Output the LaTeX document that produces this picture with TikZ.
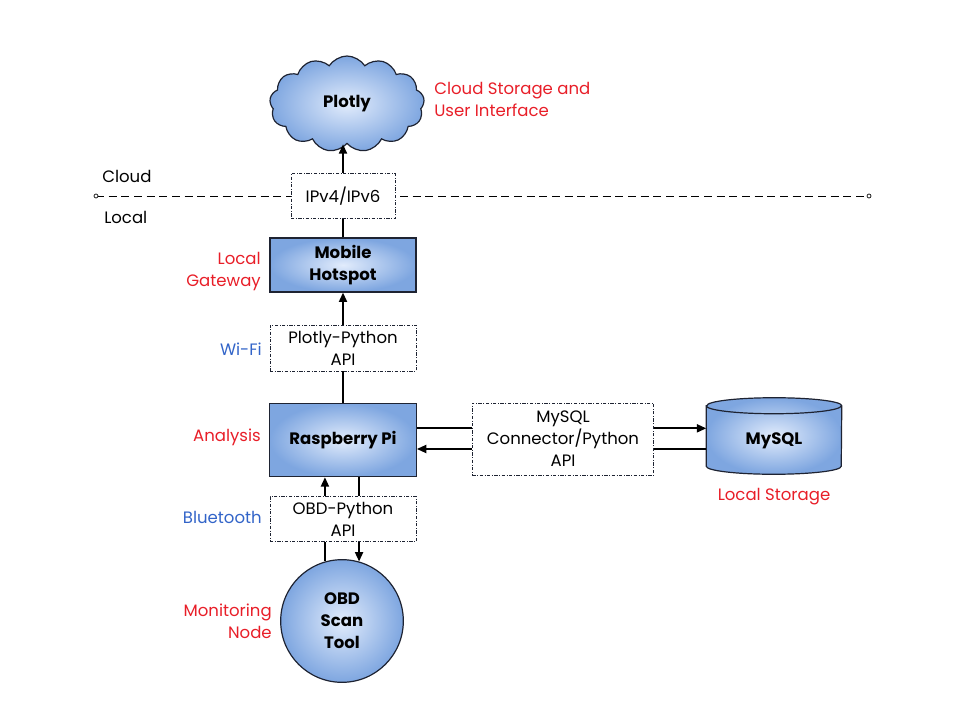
\documentclass[tikz,border=0pt]{standalone}
\usepackage{fontspec}
\setmainfont{Poppins}
\usetikzlibrary{positioning, arrows.meta, shapes.symbols}
\definecolor{hwblue}{RGB}{126,166,224}
\definecolor{hwlight}{RGB}{226,236,252}
\definecolor{hwedge}{RGB}{30,35,50}
\definecolor{tagred}{RGB}{232,30,40}
\definecolor{tagblue}{RGB}{50,100,200}
\newcommand{\diagfont}{\fontsize{12.4}{16.5}\selectfont}
\tikzset{
    hwnode/.style={draw=hwedge, line width=0.9pt, inner color=hwlight, outer color=hwblue, font=\diagfont\bfseries, align=center, inner sep=0pt},
    hwbox/.style={hwnode, rectangle, minimum width=109.5pt},
    apibox/.style={draw=hwedge, line width=0.5pt, dash pattern=on 2.5pt off 1.2pt on 0.6pt off 1.2pt, fill=white, align=center, inner sep=0pt},
    roletag/.style={text=tagred, align=right, anchor=east, inner sep=0pt},
    linktag/.style={text=tagblue, anchor=east, inner sep=0pt},
    zonetag/.style={anchor=west, inner sep=0pt},
    flow/.style={line width=1.4pt, -{Triangle[length=7pt, width=6pt]}},
    wire/.style={line width=1.4pt}
}

\begin{document}
\begin{tikzpicture}[x=0.75pt, y=-0.75pt, font=\diagfont]
    \useasboundingbox (0,0) rectangle (960,720);

    % cloud / local border
    \coordinate (borderl) at (96,196);
    \coordinate (borderr) at (869,196);
    \draw[line width=0.6pt, dash pattern=on 6pt off 3.5pt] (borderl) -- (borderr);
    \draw[line width=0.5pt, fill=white] (borderl) circle[radius=1.5pt] (borderr) circle[radius=1.5pt];
    \node[zonetag] (cloudtag) at (102,176) {Cloud};
    \node[zonetag] (localtag) at (104,217) {Local};

    % hardware
    \node[hwnode, cloud, cloud puffs=13, cloud puff arc=115, aspect=1.7, minimum width=116pt, minimum height=72pt] (plotly) at (347,104) {Plotly};
    \node[hwbox, minimum height=40.5pt] (hotspot) at (343,265) {Mobile\\Hotspot};
    \node[hwbox, minimum width=110pt, minimum height=55pt] (rpi) at (343,440) {Raspberry Pi};
    \node[hwnode, circle, minimum size=92pt] (obd) at (342,621) {OBD\\Scan\\Tool};
    \node[minimum width=101.25pt, minimum height=57pt, inner sep=0pt] (mysql) at (774,436) {};
    \path[hwnode] ([yshift=-6pt]mysql.north west) -- ([yshift=6pt]mysql.south west)
        arc[start angle=180, end angle=360, x radius=50.625pt, y radius=6pt]
        -- ([yshift=-6pt]mysql.north east)
        arc[start angle=0, end angle=180, x radius=50.625pt, y radius=6pt] -- cycle;
    \draw[draw=hwedge, line width=0.9pt] ([yshift=-6pt]mysql.north west)
        arc[start angle=180, end angle=360, x radius=50.625pt, y radius=6pt];
    \node[font=\diagfont\bfseries] (mysqltext) at (774,441) {MySQL};

    % interfaces
    \node[apibox, minimum width=78pt, minimum height=34pt] (ipv) at (343,196) {IPv4/IPv6};
    \node[apibox, minimum width=109.5pt, minimum height=34.5pt] (plotlyapi) at (343,348) {Plotly-Python\\API};
    \node[apibox, minimum width=136pt, minimum height=54pt] (sqlapi) at (563,439) {MySQL\\Connector/Python\\API};
    \node[apibox, minimum width=109.5pt, minimum height=34pt] (obdapi) at (343,519) {OBD-Python\\API};

    % tags
    \node[roletag, anchor=west, align=left] (cloudrole) at (434,99) {Cloud Storage and\\User Interface};
    \node[roletag] (gatewayrole) at (261,272) {Local\\Gateway};
    \node[roletag] (analysisrole) at (261,437) {Analysis};
    \node[roletag, anchor=north] (storagerole) at (774,488) {Local Storage};
    \node[roletag] (monitorrole) at (272,621) {Monitoring\\Node};
    \node[linktag] (wifi) at (262,349) {Wi-Fi};
    \node[linktag] (bluetooth) at (262,517) {Bluetooth};

    % links
    \draw[flow] (ipv) -- (ipv |- plotly.south);
    \draw[wire] (hotspot) -- (ipv);
    \draw[flow] (plotlyapi) -- (hotspot);
    \draw[wire] (rpi) -- (plotlyapi);
    \draw[wire] ([yshift=8pt]sqlapi.west -| rpi.east) -- ([yshift=8pt]sqlapi.west);
    \draw[flow] ([yshift=8pt]sqlapi.east) -- ([yshift=8pt]sqlapi.east -| mysql.west);
    \draw[wire] ([yshift=-7.5pt]sqlapi.east -| mysql.west) -- ([yshift=-7.5pt]sqlapi.east);
    \draw[flow] ([yshift=-7.5pt]sqlapi.west) -- ([yshift=-7.5pt]sqlapi.west -| rpi.east);
    \draw[wire] (obd.106) -- (obd.106 |- obdapi.south);
    \draw[flow] (obd.106 |- obdapi.north) -- (obd.106 |- rpi.south);
    \draw[wire] (obd.74 |- rpi.south) -- (obd.74 |- obdapi.north);
    \draw[flow] (obd.74 |- obdapi.south) -- (obd.74);
\end{tikzpicture}
\end{document}
